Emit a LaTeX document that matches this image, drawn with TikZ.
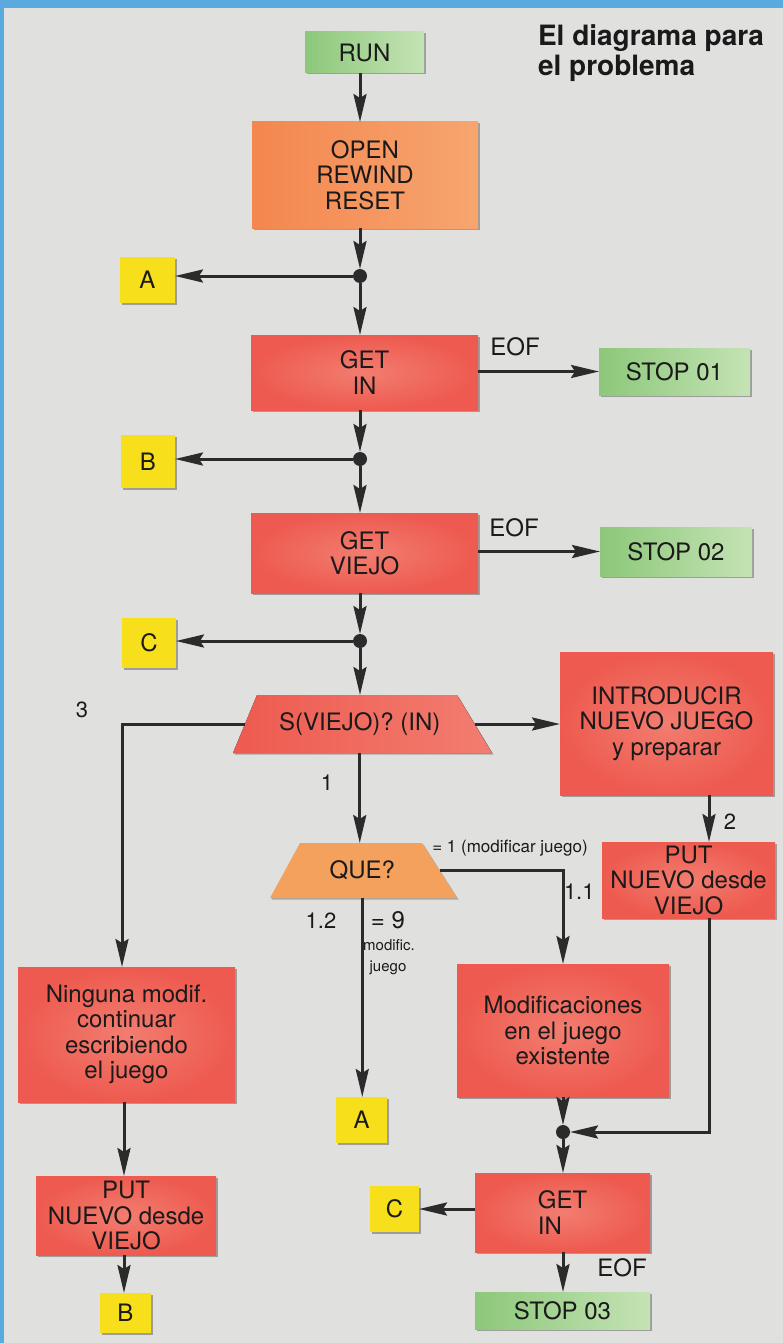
\documentclass[tikz,border=0pt]{standalone}
\usepackage{fontspec}
\setmainfont{TeX Gyre Heros}
\usetikzlibrary{arrows.meta,shadows}
\definecolor{bgc}{HTML}{E0E1DE}
\definecolor{bluec}{HTML}{5AAAE0}
\definecolor{redc}{HTML}{EE5A4F}
\definecolor{redl}{HTML}{F27D70}
\definecolor{orc}{HTML}{F4864F}
\definecolor{orl}{HTML}{F7A56F}
\definecolor{queor}{HTML}{F5A15E}
\definecolor{grnd}{HTML}{8CC87A}
\definecolor{grnl}{HTML}{C4E3B4}
\definecolor{yelc}{HTML}{F7E01B}
\definecolor{linec}{HTML}{2B2B2B}
\definecolor{txtc}{HTML}{1A1A1A}
\newcommand\bxf{\fontsize{24}{25.5}\selectfont}
\newcommand\lbf{\fontsize{22}{24}\selectfont}
\begin{document}
\begin{tikzpicture}[x=1pt,y=-1pt,
  every node/.style={inner sep=0pt,outer sep=0pt,text=txtc},
  shad/.style={drop shadow={shadow xshift=1.5pt,shadow yshift=-1.5pt,opacity=0.45,fill=black!70}},
  proc/.style={rectangle,shad,inner color=redl,outer color=redc,align=center,font=\bxf},
  openbox/.style={rectangle,shad,left color=orc,right color=orl,align=center,font=\bxf},
  term/.style={rectangle,shad,left color=grnd,right color=grnl,align=center,font=\bxf},
  conn/.style={rectangle,shad,fill=yelc,align=center,font=\bxf},
  dot/.style={circle,fill=linec,minimum size=14pt},
  lbl/.style={font=\lbf},
  arr/.style={draw=linec,line width=3pt,-{Stealth[length=28pt,width=13pt,inset=4pt]}}
]
% background
\fill[bgc] (0,0) rectangle (783,1343);
\fill[bluec] (0,0) rectangle (783,8);
\fill[bluec] (0,0) rectangle (4,1343);
\useasboundingbox (0,0) rectangle (783,1343);

% title
\node[anchor=north west,align=left,font=\fontsize{28}{30}\selectfont\bfseries] (title) at (538,24.5) {El diagrama para\\el problema};

% trapezoid shapes
\fill[black!60,opacity=0.45] (258.5,696.5) -- (458.5,696.5) -- (493.5,754.5) -- (234.5,754.5) -- cycle;
\fill[left color=redc,right color=redl] (257,695) -- (457,695) -- (492,753) -- (233,753) -- cycle;
\fill[black!60,opacity=0.45] (301.5,844.5) -- (423.5,844.5) -- (458.5,899.5) -- (271.5,899.5) -- cycle;
\fill[queor] (300,843) -- (422,843) -- (457,898) -- (270,898) -- cycle;

% nodes
\node[term,minimum width=119pt,minimum height=41pt] (run) at (364.5,52.5) {RUN};
\node[openbox,minimum width=226pt,minimum height=106pt] (open) at (365,175) {OPEN\\REWIND\\RESET};
\node[dot] (jA) at (360,276) {};
\node[conn,minimum width=55pt,minimum height=46pt] (Abox) at (147.5,280) {A};
\node[proc,minimum width=227pt,minimum height=75pt] (getin) at (364.5,372.5) {GET\\IN};
\node[term,minimum width=151pt,minimum height=47pt] (stopone) at (674.5,371.5) {STOP 01};
\node[dot] (jB) at (360,459) {};
\node[conn,minimum width=54pt,minimum height=53pt] (Bbox) at (148,461.5) {B};
\node[proc,minimum width=227pt,minimum height=80pt] (getviejo) at (364.5,553) {GET\\VIEJO};
\node[term,minimum width=152pt,minimum height=49pt] (stoptwo) at (676,551.5) {STOP 02};
\node[dot] (jC) at (360,641) {};
\node[conn,minimum width=54pt,minimum height=50pt] (Cbox) at (149,643) {C};
\node[rectangle,minimum width=229.5pt,minimum height=58pt,font=\bxf] (sv) at (359.75,724) {S(VIEJO)? (IN)};
\node[proc,minimum width=213pt,minimum height=143pt] (intro) at (666.5,723.5) {INTRODUCIR\\NUEVO JUEGO\\y preparar};
\node[rectangle,minimum width=154.5pt,minimum height=55pt,font=\bxf] (que) at (362.25,870.5) {QUE?};
\node[proc,minimum width=173pt,minimum height=76pt] (put1) at (688.5,880) {PUT\\NUEVO desde\\VIEJO};
\node[proc,minimum width=217pt,minimum height=135pt] (ning) at (126.5,1034.5) {Ninguna modif.\\continuar\\escribiendo\\el juego};
\node[conn,minimum width=51pt,minimum height=46pt] (Atwo) at (361.5,1120) {A};
\node[proc,minimum width=212pt,minimum height=133pt] (modif) at (563,1030.5) {Modificaciones\\en el juego\\existente};
\node[dot] (j4) at (563,1132) {};
\node[proc,minimum width=175pt,minimum height=79pt,align=left] (getintwo) at (562.5,1212.5) {GET\\IN};
\node[conn,minimum width=49pt,minimum height=46pt] (Ctwo) at (394.5,1209) {C};
\node[term,minimum width=175pt,minimum height=37pt] (stopthree) at (562.5,1310.5) {STOP 03};
\node[proc,minimum width=180pt,minimum height=79pt] (put2) at (126,1215.5) {PUT\\NUEVO desde\\VIEJO};
\node[conn,minimum width=51pt,minimum height=40pt] (Btwo) at (125.5,1313) {B};

% helper coordinates for line columns
\coordinate (c1) at (124,0);
\coordinate (c2) at (709,0);
\coordinate (c3) at (122,0);

% labels
\node[font=\bxf] (eof1) at (515,347) {EOF};
\node[font=\bxf] (eof2) at (514,528) {EOF};
\node[font=\bxf] (eof3) at (622,1268) {EOF};
\node[lbl] (l3) at (82,710) {3};
\node[lbl] (l1) at (327,783) {1};
\node[lbl] (l2) at (730,822) {2};
\node[lbl,anchor=west] (l11) at (564,892) {1.1};
\node[lbl] (l12) at (321,921) {1.2};
\node[font=\fontsize{24}{26}\selectfont] (l9) at (388,920) {= 9};
\node[font=\fontsize{15}{17}\selectfont] (lmod) at (389,945) {modific.};
\node[font=\fontsize{15}{17}\selectfont] (ljue) at (388,968) {juego};
\node[font=\fontsize{17}{19}\selectfont] (lone) at (510,848) {= 1 (modificar juego)};

% connectors
\draw[arr] (run.south -| jA) -- (open.north -| jA);
\draw[arr] (open.south -| jA) -- (jA);
\draw[arr] (jA) -- (jA -| Abox.east);
\draw[arr] (jA) -- (jA |- getin.north);
\draw[arr] (getin.east |- stopone.west) -- (stopone.west);
\draw[arr] (getin.south -| jB) -- (jB);
\draw[arr] (jB) -- (jB -| Bbox.east);
\draw[arr] (jB) -- (jB |- getviejo.north);
\draw[arr] (getviejo.east |- stoptwo.west) -- (stoptwo.west);
\draw[arr] (getviejo.south -| jC) -- (jC);
\draw[arr] (jC) -- (jC -| Cbox.east);
\draw[arr] (jC) -- (jC |- sv.north);
\draw[arr] (sv.west) -| (c3 |- ning.north);
\draw[arr] (sv.east) -- (sv.east -| intro.west);
\draw[arr] (sv.south) -- (sv.south |- que.north);
\draw[arr] (intro.south -| c2) -- (put1.north -| c2);
\draw[arr] (que.east) -| (modif.north);
\draw[arr] (que.south) -- (que.south |- Atwo.north);
\draw[arr] (ning.south -| c1) -- (put2.north -| c1);
\draw[arr] (put2.south -| c1) -- (Btwo.north -| c1);
\draw[arr] (modif.south -| j4) -- (j4);
\draw[arr] (put1.south -| c2) |- (j4);
\draw[arr] (j4) -- (j4 |- getintwo.north);
\draw[arr] (getintwo.west |- Ctwo.east) -- (Ctwo.east);
\draw[arr] (getintwo.south -| j4) -- (j4 |- stopthree.north);
\end{tikzpicture}
\end{document}
